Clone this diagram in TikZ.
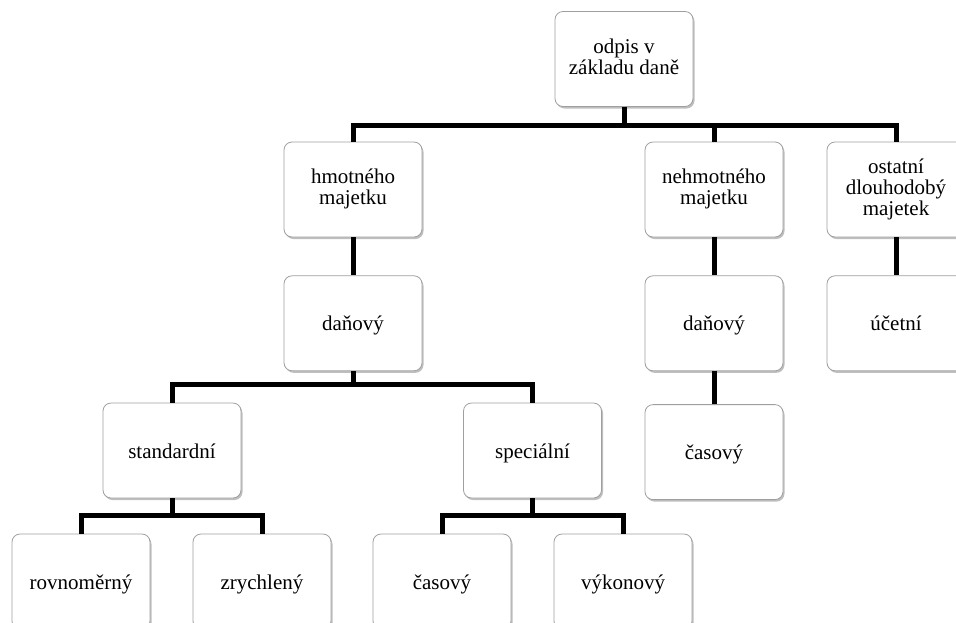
\documentclass[tikz,border=0pt]{standalone}
\usepackage{fontspec}
\setmainfont{Liberation Serif}
\usetikzlibrary{positioning}
\usetikzlibrary{shadows}
\tikzset{
        % Boxes of the tree
        odpis_box/.style={rectangle, rounded corners=8pt, draw=gray!75, line width=0.8pt, fill=white,
            minimum width=138pt, minimum height=95pt, align=center, inner sep=2pt,
            font=\fontsize{21pt}{21pt}\selectfont,
            execute at begin node={\rule{0pt}{20pt}}, execute at end node={\rule[-5pt]{0pt}{5pt}},
            drop shadow={shadow xshift=1.5pt, shadow yshift=-2pt, opacity=0.25, fill=black}},
        % Connectors
        odpis_line/.style={line width=5pt, black}
}
\begin{document}
\begin{tikzpicture}[x=1pt, y=-1pt]
            \useasboundingbox (0,0) rectangle (956,622);
            \node[odpis_box] (root) at (624,59) {odpis v\\základu daně};
            \node[odpis_box] (hm) at (353,189.5) {hmotného\\majetku};
            \node[odpis_box] (neh) at (714,189.5) {nehmotného\\majetku};
            \node[odpis_box] (ost) at (896,189.5) {ostatní\\dlouhodobý\\majetek};
            \node[odpis_box, below=38pt of hm] (dan1) {daňový};
            \node[odpis_box, below=38pt of neh] (dan2) {daňový};
            \node[odpis_box, below=38pt of ost] (uc) {účetní};
            \node[odpis_box] (std) at (172,450.5) {standardní};
            \node[odpis_box] (spec) at (532.5,450.5) {speciální};
            \node[odpis_box, below=33pt of dan2] (cas1) {časový};
            \node[odpis_box] (rov) at (81,581.5) {rovnoměrný};
            \node[odpis_box] (zry) at (262,581.5) {zrychlený};
            \node[odpis_box] (cas2) at (442,581.5) {časový};
            \node[odpis_box] (vyk) at (623,581.5) {výkonový};
            % level 1
            \foreach \c in {hm, neh, ost}
                \draw[odpis_line] (root.south) -- ++(0,19) -| (\c.north);
            % level 2
            \draw[odpis_line] (hm) -- (dan1);
            \draw[odpis_line] (neh) -- (dan2);
            \draw[odpis_line] (ost) -- (uc);
            \draw[odpis_line] (dan2) -- (cas1);
            % level 3
            \foreach \c in {std, spec}
                \draw[odpis_line] (dan1.south) -- ++(0,13) -| (\c.north);
            % level 4
            \foreach \c in {rov, zry}
                \draw[odpis_line] (std.south) -- ++(0,17) -| (\c.north);
            \foreach \c in {cas2, vyk}
                \draw[odpis_line] (spec.south) -- ++(0,17) -| (\c.north);
\end{tikzpicture}
\end{document}
